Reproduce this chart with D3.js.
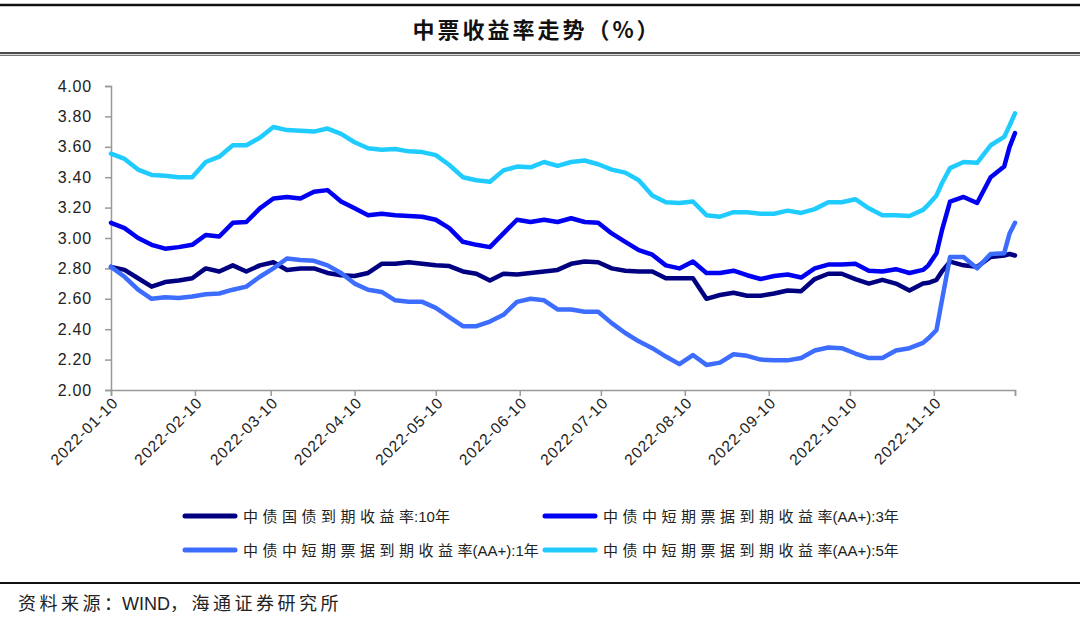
<!DOCTYPE html>
<html lang="zh-CN">
<head>
<meta charset="UTF-8">
<title>中票收益率走势</title>
<script src="https://d3js.org/d3.v7.min.js"></script>
<style>
  body { margin: 0; background: #fff; }
  svg { display: block; }
</style>
</head>
<body>
<svg width="1080" height="618"></svg>
<script>
// 日期
const dates = [
  "2022-01-10","2022-01-15","2022-01-20","2022-01-25","2022-01-30","2022-02-04","2022-02-09","2022-02-14",
  "2022-02-19","2022-02-24","2022-03-01","2022-03-06","2022-03-11","2022-03-16","2022-03-21","2022-03-26",
  "2022-03-31","2022-04-05","2022-04-10","2022-04-15","2022-04-20","2022-04-25","2022-04-30","2022-05-05",
  "2022-05-10","2022-05-15","2022-05-20","2022-05-25","2022-05-30","2022-06-04","2022-06-09","2022-06-14",
  "2022-06-19","2022-06-24","2022-06-29","2022-07-04","2022-07-09","2022-07-14","2022-07-19","2022-07-24",
  "2022-07-29","2022-08-03","2022-08-08","2022-08-13","2022-08-18","2022-08-23","2022-08-28","2022-09-02",
  "2022-09-07","2022-09-12","2022-09-17","2022-09-22","2022-09-27","2022-10-02","2022-10-07","2022-10-12",
  "2022-10-17","2022-10-22","2022-10-27","2022-11-01","2022-11-06","2022-11-08","2022-11-11","2022-11-13",
  "2022-11-16","2022-11-21","2022-11-26","2022-12-01","2022-12-06","2022-12-08","2022-12-10"
];

// 中债国债到期收益率:10年
const gov10y = [
  2.81,2.79,2.735,2.68,2.71,2.72,2.735,2.80,2.78,2.82,2.78,2.82,2.84,2.79,2.80,2.80,
  2.77,2.755,2.75,2.77,2.83,2.83,2.84,2.83,2.82,2.815,2.78,2.765,2.72,2.765,2.76,2.77,
  2.78,2.79,2.83,2.845,2.84,2.80,2.785,2.78,2.78,2.735,2.735,2.735,2.60,2.625,2.64,2.62,
  2.62,2.635,2.655,2.65,2.73,2.765,2.765,2.73,2.70,2.725,2.70,2.655,2.70,2.705,2.725,2.78,
  2.845,2.82,2.81,2.875,2.885,2.895,2.885
];
// 中债中短期票据到期收益率(AA+):3年
const mtn3y = [
  3.10,3.065,3.00,2.955,2.93,2.94,2.955,3.02,3.01,3.10,3.105,3.195,3.26,3.27,3.26,3.305,
  3.315,3.24,3.195,3.15,3.16,3.15,3.145,3.14,3.12,3.065,2.975,2.955,2.94,3.03,3.12,3.105,
  3.12,3.105,3.13,3.105,3.10,3.03,2.975,2.92,2.89,2.82,2.80,2.845,2.77,2.77,2.785,2.755,
  2.73,2.75,2.76,2.74,2.80,2.825,2.825,2.83,2.785,2.78,2.795,2.77,2.79,2.82,2.90,3.05,
  3.24,3.27,3.23,3.40,3.47,3.60,3.69
];
// 中债中短期票据到期收益率(AA+):1年
const mtn1y = [
  2.81,2.745,2.66,2.60,2.61,2.605,2.615,2.63,2.635,2.66,2.68,2.745,2.80,2.865,2.855,2.85,
  2.82,2.77,2.70,2.66,2.645,2.59,2.58,2.58,2.54,2.48,2.42,2.42,2.45,2.495,2.58,2.60,
  2.59,2.53,2.53,2.515,2.515,2.44,2.375,2.32,2.275,2.22,2.17,2.23,2.165,2.18,2.235,2.225,
  2.20,2.195,2.195,2.21,2.26,2.28,2.275,2.24,2.21,2.21,2.26,2.275,2.31,2.34,2.395,2.59,
  2.875,2.875,2.80,2.895,2.90,3.03,3.10
];
// 中债中短期票据到期收益率(AA+):5年
const mtn5y = [
  3.555,3.52,3.45,3.415,3.41,3.40,3.40,3.50,3.535,3.61,3.61,3.66,3.73,3.71,3.705,3.70,
  3.72,3.685,3.63,3.59,3.58,3.585,3.57,3.565,3.545,3.48,3.40,3.38,3.37,3.445,3.47,3.465,
  3.50,3.475,3.50,3.51,3.485,3.45,3.43,3.38,3.28,3.235,3.23,3.24,3.15,3.14,3.17,3.17,
  3.16,3.16,3.18,3.165,3.19,3.235,3.235,3.255,3.195,3.15,3.15,3.145,3.185,3.22,3.28,3.36,
  3.46,3.50,3.495,3.61,3.665,3.74,3.82
];

const xTickDates = ["2022-01-10","2022-02-10","2022-03-10","2022-04-10","2022-05-10","2022-06-10",
  "2022-07-10","2022-08-10","2022-09-10","2022-10-10","2022-11-10","2022-12-10"];
const yTicks = [2.0,2.2,2.4,2.6,2.8,3.0,3.2,3.4,3.6,3.8,4.0];

const series = [
  { name: "中债国债到期收益率:10年", values: gov10y, color: "#000080" },
  { name: "中债中短期票据到期收益率(AA+):3年", values: mtn3y, color: "#0000f2" },
  { name: "中债中短期票据到期收益率(AA+):1年", values: mtn1y, color: "#3d6dff" },
  { name: "中债中短期票据到期收益率(AA+):5年", values: mtn5y, color: "#20ccff" }
];

const parse = d3.timeParse("%Y-%m-%d");
const svg = d3.select("svg");
const cjk = '"Noto Sans CJK SC", "Noto Sans", sans-serif';
const latin = '"Liberation Sans", Arial, sans-serif';

// 中文逐字拉开间距，英文数字不拉开；中文段最后一个字后面不加间距
function spacedText(sel, str, spacing) {
  const parts = str.match(/[\u3000-\u9fff\uff00-\uffef]+|[^\u3000-\u9fff\uff00-\uffef]+/g);
  parts.forEach((p, k) => {
    const isCjk = /[\u3000-\u9fff\uff00-\uffef]/.test(p);
    if (isCjk && k < parts.length - 1) {
      if (p.length > 1) {
        sel.append("tspan").attr("font-family", cjk).attr("letter-spacing", spacing).text(p.slice(0, -1));
      }
      sel.append("tspan").attr("font-family", cjk).attr("letter-spacing", 0).text(p.slice(-1));
    } else {
      sel.append("tspan")
        .attr("font-family", isCjk ? cjk : latin)
        .attr("letter-spacing", isCjk ? spacing : 0)
        .text(p);
    }
  });
}

// 标题和框线
svg.append("line").attr("x1", 0).attr("x2", 1080).attr("y1", 5).attr("y2", 5)
  .attr("stroke", "#111").attr("stroke-width", 2.5);
svg.append("line").attr("x1", 0).attr("x2", 1080).attr("y1", 53).attr("y2", 53)
  .attr("stroke", "#111").attr("stroke-width", 1.6);
svg.append("line").attr("x1", 0).attr("x2", 1080).attr("y1", 55.3).attr("y2", 55.3)
  .attr("stroke", "#777").attr("stroke-width", 1.2);
svg.append("text")
  .attr("x", 537).attr("y", 38)
  .attr("text-anchor", "middle")
  .attr("font-family", cjk).attr("font-weight", "bold")
  .attr("font-size", 22).attr("letter-spacing", 3).attr("fill", "#111")
  .text("中票收益率走势（%）");

const x = d3.scaleTime()
  .domain([parse("2022-01-10"), parse("2022-12-10")])
  .range([111, 1015]);
const y = d3.scaleLinear().domain([2, 4]).range([390, 86]);

// Y轴
const yAxis = svg.append("g")
  .attr("transform", "translate(111,0)")
  .call(d3.axisLeft(y).tickValues(yTicks).tickFormat(d3.format(".2f")).tickSize(6).tickPadding(13));
yAxis.select(".domain").attr("stroke", "#999").attr("stroke-width", 1.5);
yAxis.selectAll(".tick line").attr("stroke", "#999").attr("stroke-width", 1.5);
yAxis.selectAll(".tick text")
  .attr("font-family", latin).attr("font-size", 16).attr("letter-spacing", 0.8).attr("fill", "#222");

// X轴
const xAxis = svg.append("g")
  .attr("transform", "translate(0,390)")
  .call(d3.axisBottom(x).tickValues(xTickDates.map(parse))
    .tickFormat((d, i) => i < xTickDates.length - 1 ? d3.timeFormat("%Y-%m-%d")(d) : "")
    .tickSize(6));
xAxis.select(".domain").attr("stroke", "#999").attr("stroke-width", 1.5);
xAxis.selectAll(".tick line").attr("stroke", "#999").attr("stroke-width", 1.5);
xAxis.selectAll(".tick text")
  .attr("font-family", latin).attr("font-size", 15.5).attr("letter-spacing", 0.9).attr("fill", "#222")
  .attr("text-anchor", "end")
  .attr("transform", "translate(4,10) rotate(-45)")
  .attr("x", 0).attr("y", 0).attr("dy", "0.35em");

// 折线
const line = d3.line()
  .x((d, i) => x(parse(dates[i])))
  .y(d => y(d));

series.forEach(s => {
  svg.append("path")
    .datum(s.values)
    .attr("fill", "none")
    .attr("stroke", s.color)
    .attr("stroke-width", 4.5)
    .attr("stroke-linejoin", "round")
    .attr("stroke-linecap", "round")
    .attr("d", line);
});

// 图例
const legendPos = [
  { x: 185, y: 516 }, { x: 545, y: 516 },
  { x: 185, y: 550 }, { x: 545, y: 550 }
];
series.forEach((s, i) => {
  const p = legendPos[i];
  svg.append("line")
    .attr("x1", p.x).attr("x2", p.x + 50).attr("y1", p.y).attr("y2", p.y)
    .attr("stroke", s.color).attr("stroke-width", 5).attr("stroke-linecap", "round");
  const t = svg.append("text")
    .attr("x", p.x + 58).attr("y", p.y + 5.5)
    .attr("font-size", 15).attr("fill", "#222");
  spacedText(t, s.name, 4.5);
});

// 资料来源
svg.append("line").attr("x1", 0).attr("x2", 1080).attr("y1", 583).attr("y2", 583)
  .attr("stroke", "#111").attr("stroke-width", 2);
const src = svg.append("text")
  .attr("x", 18).attr("y", 610)
  .attr("font-size", 18).attr("fill", "#222");
spacedText(src, "资料来源：WIND，海通证券研究所", 3.5);
</script>
</body>
</html>
